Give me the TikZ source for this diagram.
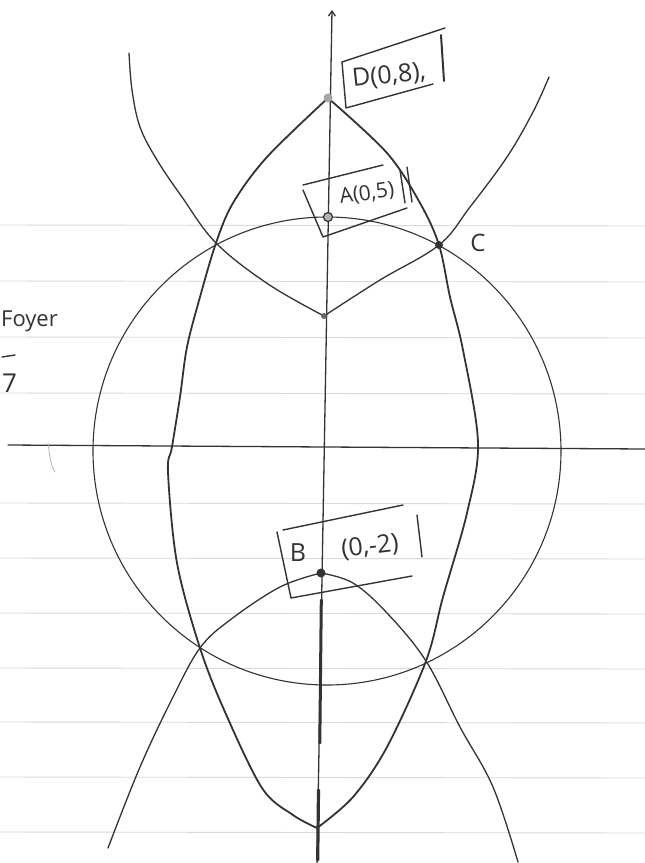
\documentclass[tikz,border=0pt]{standalone}
\usepackage{fontspec}
\setmainfont{Open Sans}
\usetikzlibrary{arrows.meta}
\definecolor{ink}{HTML}{333333}
\definecolor{paperline}{HTML}{DADADA}
\begin{document}
\begin{tikzpicture}[x=1pt,y=-1pt,line cap=round,line join=round,
  pen/.style={draw=ink,line width=1.3pt},
  thickpen/.style={draw=ink,line width=1.8pt},
  thinpen/.style={draw=ink,line width=1.1pt},
  boxpen/.style={draw=ink,line width=1.4pt},
  ruled/.style={draw=paperline,line width=0.9pt},
  lbl/.style={text=ink,inner sep=0pt,font=\fontsize{25}{27}\selectfont},
  ptdot/.style={circle,fill=ink,inner sep=0pt,minimum size=8pt}]
\useasboundingbox (0,0) rectangle (645,863);
\clip (0,0) rectangle (645,863);
\fill[white] (0,0) rectangle (645,863);
% ruled paper
\foreach \yy in {225,281,337,393,503,558,613,668,722,777,832}
  \draw[ruled] (0,\yy) -- (645,\yy+1);
% named points
\coordinate (D) at (328,98);
\coordinate (A) at (328,217);
\coordinate (C) at (439,245);
\coordinate (B) at (321,573);
\coordinate (V) at (324,316);
\coordinate (L1) at (216,243);
\coordinate (L2) at (200,648);
\coordinate (R2) at (426,661);
\coordinate (E) at (317,828);
\coordinate (O) at (327,451);
\coordinate (xl) at (8,445);
\coordinate (xr) at (645,449);
\coordinate (yb) at (317,863);
\coordinate (yt) at (332,10);
% axes
\draw[pen] (xl) -- (xr);
\draw[pen,-{Straight Barb[length=5pt,width=7pt]}] (yb) -- (yt);
\draw[ink,line width=3pt] (321.3,600) -- (319.8,743);
\draw[ink,line width=3.2pt] (318.5,790) -- (317.7,860);
\draw[gray!60,line width=0.8pt] (48,443) .. controls (50,455) and (50,465) .. (55,472);
% circle
\draw[thinpen] (O) circle[radius=234];
% upper parabola
\draw[pen] plot[smooth,tension=0.6] coordinates {(129,53) (132,90) (140,127) (157,160) (182,197) (L1) (268,284) (V)};
\draw[pen] plot[smooth,tension=0.6] coordinates {(V) (380,280) (C) (470,207) (507,157) (533,112) (549,77)};
% lower parabola
\draw[pen] plot[smooth,tension=0.6] coordinates {(B) (280,587) (230,620) (L2) (173,697) (140,767) (108,848)};
\draw[pen] plot[smooth,tension=0.6] coordinates {(B) (353,583) (387,613) (R2) (460,727) (493,787) (518,862)};
% lens curves
\draw[thickpen] plot[smooth,tension=0.55] coordinates {(D) (267,157) (233,203) (L1) (200,297) (187,347) (180,397) (172,447) (168,472) (177,563) (L2) (225,712) (262,788) (293,815) (E)};
\draw[thickpen] plot[smooth,tension=0.55] coordinates {(D) (387,153) (420,203) (C) (450,297) (463,350) (478,443) (467,513) (443,597) (R2) (387,747) (353,797) (E)};
% points
\fill[gray!70] (D) circle[radius=4.5];
\node[ptdot,draw=ink,fill=gray!60,line width=1.2pt,minimum size=9pt] (nA) at (A) {};
\node[ptdot] (nC) at (C) {};
\node[ptdot,minimum size=9pt] (nB) at (B) {};
\node[ptdot,minimum size=6pt,fill=gray!80!black] (nV) at (V) {};
% D label box
\draw[boxpen] (342,62) -- (445,28);
\draw[boxpen] (342,62) -- (346,108) -- (433,84);
\draw[ink,line width=2pt] (441,35) -- (444,81);
\node[lbl,rotate=6] (tD) at (389,76) {D(0,8),};
% A label box
\draw[boxpen] (303,185) -- (383,165);
\draw[boxpen] (303,190) -- (323,237) -- (407,208);
\draw[boxpen] (400,170) -- (405,203);
\draw[boxpen] (407,167) -- (412,202);
\node[lbl,rotate=8,font=\fontsize{21}{23}\selectfont] (tA) at (367,194) {A(0,5)};
% C label
\node[lbl,font=\fontsize{24}{26}\selectfont] (tC) at (478,243) {C};
% B label box
\draw[boxpen] (283,530) -- (403,505);
\draw[boxpen] (277,532) -- (291,598) -- (412,576);
\draw[boxpen] (417,515) -- (422,557);
\node[lbl] (tB) at (298,553) {B};
\node[lbl,rotate=7] (tB2) at (370,547) {(0,-2)};
% left margin text
\node[lbl,anchor=base west,font=\fontsize{22}{24}\selectfont] (foyer) at (1,326) {Foyer};
\draw[boxpen] (2,357) -- (15,355);
\node[lbl,anchor=base west,font=\fontsize{26}{28}\selectfont] (seven) at (2,392) {7};
\end{tikzpicture}
\end{document}
